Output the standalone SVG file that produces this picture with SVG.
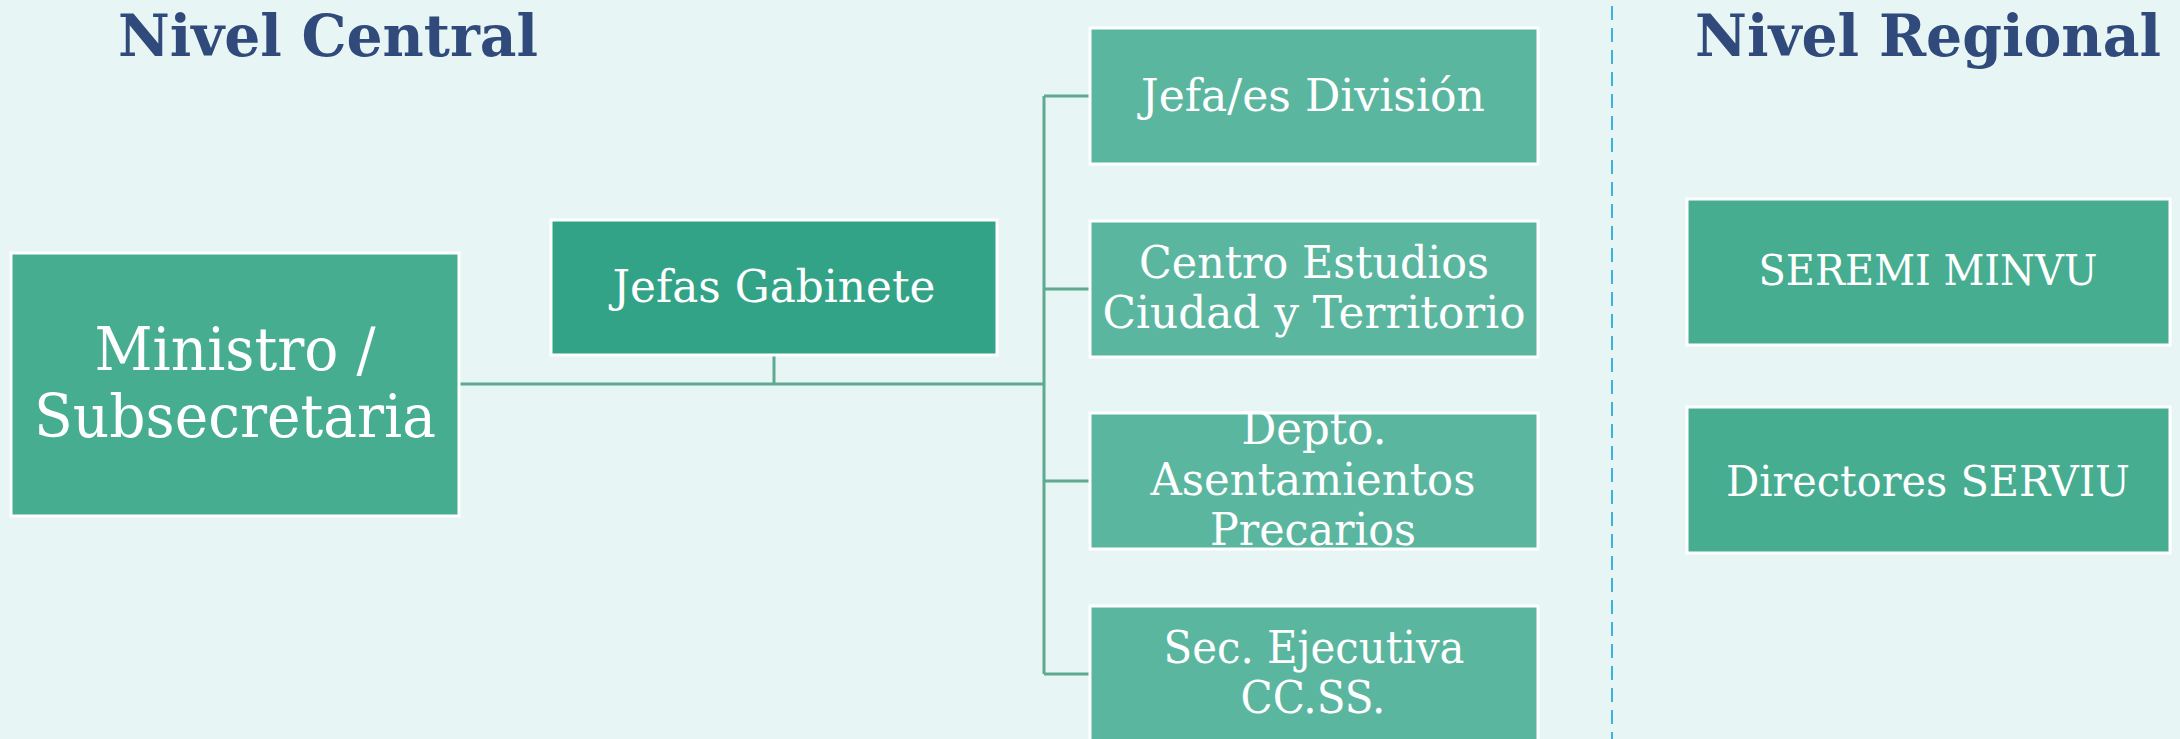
<svg xmlns="http://www.w3.org/2000/svg" width="2180" height="739" viewBox="0 0 2180 739">
<style>
.bg{fill:#E7F5F5}
.title{font-family:"DejaVu Serif","Liberation Serif",serif;font-weight:bold;fill:#2F4A7B;font-size:57px;text-anchor:start}
.box{stroke:#FFFFFF;stroke-width:3}
.mid{fill:#46AD91}
.dark{fill:#32A386}
.light{fill:#5BB6A0}
.lbl{font-family:"DejaVu Serif","Liberation Serif",serif;fill:#FFFFFF;text-anchor:middle}
.conn{fill:none;stroke:#5FAA8F;stroke-width:3}
.sep{fill:none;stroke:#3BB3E0;stroke-width:2;stroke-dasharray:14 8}
</style>
<rect class="bg" x="0" y="0" width="2180" height="739"/>
<text class="title" x="118" y="56" textLength="420" lengthAdjust="spacingAndGlyphs">Nivel Central</text>
<text class="title" x="1695" y="56" textLength="466" lengthAdjust="spacingAndGlyphs">Nivel Regional</text>
<line class="sep" x1="1612" y1="6" x2="1612" y2="739"/>
<g id="connectors">
<polyline class="conn" points="459,384 1044,384"/>
<polyline class="conn" points="774,355 774,384"/>
<polyline class="conn" points="1044,96 1044,674"/>
<polyline class="conn" points="1044,96 1090,96"/>
<polyline class="conn" points="1044,289 1090,289"/>
<polyline class="conn" points="1044,481 1090,481"/>
<polyline class="conn" points="1044,674 1090,674"/>
</g>
<g id="ministro">
<rect class="box mid" x="11" y="253" width="448" height="263"/>
<text class="lbl" x="235" y="370" font-size="59" textLength="281" lengthAdjust="spacingAndGlyphs">Ministro /</text>
<text class="lbl" x="235" y="437" font-size="59" textLength="402" lengthAdjust="spacingAndGlyphs">Subsecretaria</text>
</g>
<g id="jefas-gabinete">
<rect class="box dark" x="551" y="220" width="446" height="135"/>
<text class="lbl" x="774" y="302" font-size="44" textLength="323" lengthAdjust="spacingAndGlyphs">Jefas Gabinete</text>
</g>
<g id="jefes-division">
<rect class="box light" x="1090" y="28" width="448" height="136"/>
<text class="lbl" x="1313" y="111" font-size="45" textLength="344" lengthAdjust="spacingAndGlyphs">Jefa/es División</text>
</g>
<g id="centro-estudios">
<rect class="box light" x="1090" y="221" width="448" height="136"/>
<text class="lbl" x="1314" y="278" font-size="45" textLength="350" lengthAdjust="spacingAndGlyphs">Centro Estudios</text>
<text class="lbl" x="1314" y="328" font-size="45" textLength="423" lengthAdjust="spacingAndGlyphs">Ciudad y Territorio</text>
</g>
<g id="depto-asentamientos">
<rect class="box light" x="1090" y="413" width="448" height="136"/>
<text class="lbl" x="1314" y="444" font-size="45" textLength="145" lengthAdjust="spacingAndGlyphs">Depto.</text>
<text class="lbl" x="1313" y="495" font-size="45" textLength="325" lengthAdjust="spacingAndGlyphs">Asentamientos</text>
<text class="lbl" x="1313" y="545" font-size="45" textLength="206" lengthAdjust="spacingAndGlyphs">Precarios</text>
</g>
<g id="sec-ejecutiva">
<rect class="box light" x="1090" y="606" width="448" height="137"/>
<text class="lbl" x="1314" y="663" font-size="45" textLength="301" lengthAdjust="spacingAndGlyphs">Sec. Ejecutiva</text>
<text class="lbl" x="1313" y="713" font-size="45" textLength="145" lengthAdjust="spacingAndGlyphs">CC.SS.</text>
</g>
<g id="seremi-minvu">
<rect class="box mid" x="1687" y="199" width="483" height="146"/>
<text class="lbl" x="1928" y="285" font-size="43" textLength="339" lengthAdjust="spacingAndGlyphs">SEREMI MINVU</text>
</g>
<g id="directores-serviu">
<rect class="box mid" x="1687" y="407" width="483" height="146"/>
<text class="lbl" x="1928" y="496" font-size="43" textLength="404" lengthAdjust="spacingAndGlyphs">Directores SERVIU</text>
</g>
</svg>
